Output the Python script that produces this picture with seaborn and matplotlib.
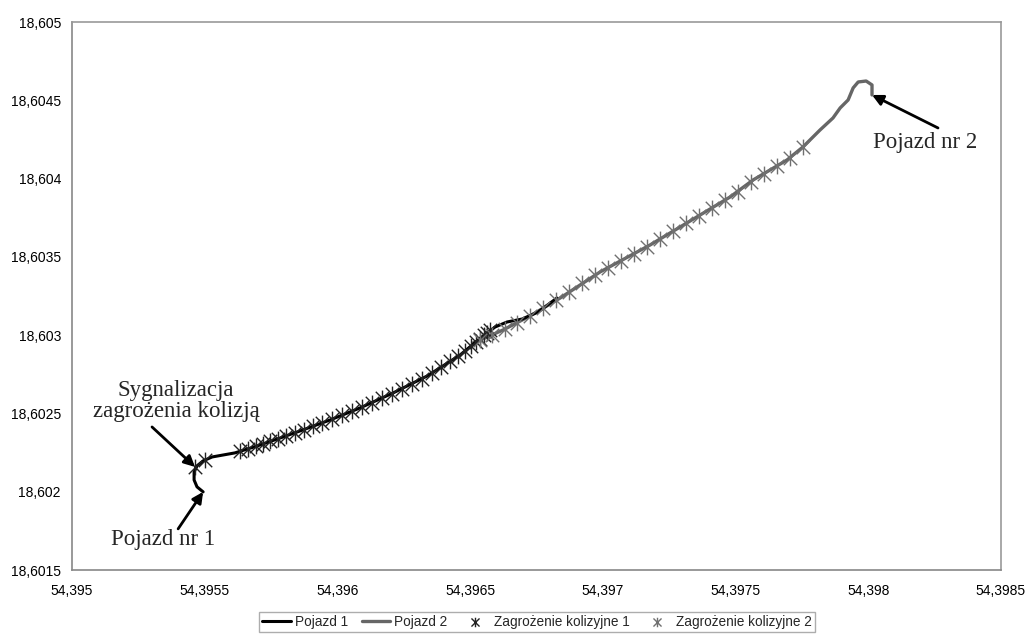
import matplotlib
matplotlib.use("Agg")
import matplotlib.pyplot as plt
from matplotlib.path import Path
import seaborn as sns

# Trasy pojazdow (wspolrzedne)
p1_x = [54.395494, 54.395471, 54.395460, 54.395460, 54.395471, 54.395494, 54.395528,
        54.395614, 54.395697, 54.395784, 54.395859, 54.395972, 54.396085, 54.396210,
        54.396338, 54.396462, 54.396549, 54.396594, 54.396639, 54.396696, 54.396756,
        54.396827]
p1_y = [18.601999, 18.602031, 18.602075, 18.602126, 18.602165, 18.602197, 18.602222,
        18.602248, 18.602292, 18.602343, 18.602388, 18.602458, 18.602535, 18.602631,
        18.602739, 18.602873, 18.602995, 18.603052, 18.603084, 18.603103, 18.603148,
        18.603237]

p2_x = [54.398014, 54.398014, 54.397992, 54.397962, 54.397943, 54.397924, 54.397894,
        54.397867, 54.397818, 54.397754, 54.397694, 54.397566, 54.397479, 54.397366,
        54.397178, 54.396990, 54.396839, 54.396726, 54.396624, 54.396564, 54.396511]
p2_y = [18.604534, 18.604598, 18.604623, 18.604617, 18.604579, 18.604502, 18.604451,
        18.604387, 18.604310, 18.604202, 18.604119, 18.603991, 18.603882, 18.603767,
        18.603576, 18.603404, 18.603237, 18.603123, 18.603033, 18.602988, 18.602950]

# Punkty zagrozenia kolizyjnego
z1_x = [54.3954635, 54.3955011, 54.3956330, 54.3956632, 54.3956933, 54.3957197,
        54.3957461, 54.3957762, 54.3958064, 54.3958403, 54.3958742, 54.3959081,
        54.3959420, 54.3959797, 54.3960174, 54.3960550, 54.3960927, 54.3961304,
        54.3961681, 54.3962058, 54.3962434, 54.3962811, 54.3963188, 54.3963565,
        54.3963904, 54.3964243, 54.3964544, 54.3964808, 54.3965034, 54.3965223,
        54.3965373, 54.3965524, 54.3965637, 54.3965750]
z1_y = [18.6021582, 18.6022029, 18.6022604, 18.6022732, 18.6022923, 18.6023051,
        18.6023243, 18.6023370, 18.6023562, 18.6023754, 18.6023945, 18.6024201,
        18.6024392, 18.6024648, 18.6024903, 18.6025158, 18.6025414, 18.6025669,
        18.6025989, 18.6026244, 18.6026563, 18.6026883, 18.6027202, 18.6027585,
        18.6027968, 18.6028351, 18.6028671, 18.6028990, 18.6029309, 18.6029565,
        18.6029756, 18.6030012, 18.6030140, 18.6030331]

z2_x = [54.3965373, 54.3965826, 54.3966315, 54.3966768, 54.3967257, 54.3967747,
        54.3968237, 54.3968727, 54.3969217, 54.3969707, 54.3970196, 54.3970686,
        54.3971176, 54.3971666, 54.3972156, 54.3972646, 54.3973136, 54.3973625,
        54.3974115, 54.3974605, 54.3975095, 54.3975585, 54.3976075, 54.3976564,
        54.3977054, 54.3977544]
z2_y = [18.6029693, 18.6030012, 18.6030395, 18.6030778, 18.6031225, 18.6031736,
        18.6032247, 18.6032758, 18.6033333, 18.6033843, 18.6034290, 18.6034737,
        18.6035184, 18.6035631, 18.6036142, 18.6036653, 18.6037164, 18.6037611,
        18.6038122, 18.6038633, 18.6039144, 18.6039782, 18.6040293, 18.6040804,
        18.6041315, 18.6042017]

x_ticks = [54.395, 54.3955, 54.396, 54.3965, 54.397, 54.3975, 54.398, 54.3985]
x_labels = ["54,395", "54,3955", "54,396", "54,3965", "54,397", "54,3975", "54,398", "54,3985"]
y_ticks = [18.6015, 18.602, 18.6025, 18.603, 18.6035, 18.604, 18.6045, 18.605]
y_labels = ["18,6015", "18,602", "18,6025", "18,603", "18,6035", "18,604", "18,6045", "18,605"]

sns.set_style("white")
plt.rcParams['font.family'] = ['Liberation Sans', 'DejaVu Sans']

# gwiazdka jak w Excelu: X z pionowa kreska
star = Path([(0, -1), (0, 1), (-0.85, -0.85), (0.85, 0.85), (-0.85, 0.85), (0.85, -0.85)],
            [Path.MOVETO, Path.LINETO, Path.MOVETO, Path.LINETO, Path.MOVETO, Path.LINETO])

fig = plt.figure(figsize=(10.26, 6.34), dpi=100)
ax = fig.add_axes([72/1026, 64/634, 929/1026, 548/634])

sns.lineplot(x=p2_x, y=p2_y, sort=False, estimator=None, color='#666666', lw=2.4,
             ax=ax, label='Pojazd 2')
sns.lineplot(x=p1_x, y=p1_y, sort=False, estimator=None, color='black', lw=2.2,
             ax=ax, label='Pojazd 1')
sns.scatterplot(x=z1_x, y=z1_y, marker=star, s=130, color='#222222', edgecolor='#222222',
                linewidth=1.0, ax=ax, label='Zagrożenie kolizyjne 1', zorder=3)
sns.scatterplot(x=z2_x, y=z2_y, marker=star, s=130, color='#707070', edgecolor='#707070',
                linewidth=1.0, ax=ax, label='Zagrożenie kolizyjne 2', zorder=3)

ax.set_xlim(54.395, 54.3985)
ax.set_ylim(18.6015, 18.605)
ax.set_xticks(x_ticks)
ax.set_xticklabels(x_labels)
ax.set_yticks(y_ticks)
ax.set_yticklabels(y_labels)
ax.tick_params(axis='both', direction='out', length=4, width=1, color='#888888',
               labelsize=10, labelcolor='black', pad=4)
ax.tick_params(axis='x', pad=6)
for s in ax.spines.values():
    s.set_color('#999999')
    s.set_linewidth(1.2)
ax.spines['left'].set_color('#888888')
ax.spines['bottom'].set_color('#888888')

# strzalki i opisy
arrow = dict(arrowstyle='-|>', lw=2, color='black', mutation_scale=16, shrinkA=0, shrinkB=0)
serif = ['Liberation Serif', 'DejaVu Serif']

tip1 = (p1_x[0], p1_y[0])
ax.annotate('', xy=tip1, xytext=(-25, -37), textcoords='offset pixels', arrowprops=arrow)
ax.annotate('Pojazd nr 1', xy=tip1, xytext=(-40, -48), textcoords='offset pixels',
            ha='center', va='center', fontsize=16.5, family=serif)

tip2 = (p2_x[0], p2_y[0])
ax.annotate('', xy=tip2, xytext=(66, -33), textcoords='offset pixels', arrowprops=arrow)
ax.annotate('Pojazd nr 2', xy=tip2, xytext=(53, -48), textcoords='offset pixels',
            ha='center', va='center', fontsize=16.5, family=serif)

mk = (z1_x[0], z1_y[0])
ax.annotate('', xy=mk, xytext=(-43, 40), textcoords='offset pixels', arrowprops=arrow)
ax.annotate('Sygnalizacja\nzagrożenia kolizją', xy=mk, xytext=(-19, 66),
            textcoords='offset pixels', ha='center', va='center', fontsize=16.5,
            family=serif, linespacing=0.95)

handles, labels = ax.get_legend_handles_labels()
order = [labels.index(l) for l in ['Pojazd 1', 'Pojazd 2', 'Zagrożenie kolizyjne 1',
                                   'Zagrożenie kolizyjne 2']]
ax.get_legend().remove()
leg = fig.legend([handles[i] for i in order], [labels[i] for i in order],
                 loc='center', bbox_to_anchor=(537/1026, 12/634), ncol=4,
                 fontsize=9.8, frameon=True, fancybox=False, edgecolor='#999999',
                 handlelength=2.1, handletextpad=0.3, columnspacing=1.0,
                 borderpad=0.25, borderaxespad=0, markerscale=0.6)
leg.get_frame().set_linewidth(1)

fig.savefig("out.png", dpi=100)
